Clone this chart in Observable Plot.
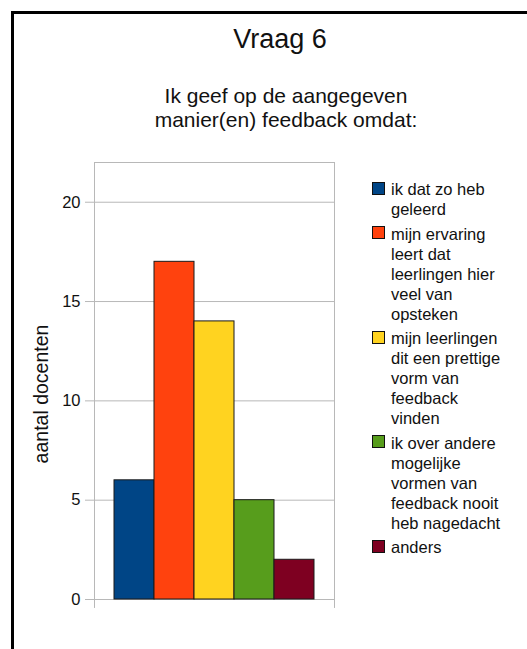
<!DOCTYPE html>
<html>
<head>
<meta charset="utf-8">
<script src="https://cdn.jsdelivr.net/npm/d3@7"></script>
<script src="https://cdn.jsdelivr.net/npm/@observablehq/plot@0.6"></script>
<style>
  body { margin: 0; background: #fff; font-family: "Liberation Sans", Arial, Helvetica, sans-serif; color: #111; }
  #page { position: relative; width: 527px; height: 649px; overflow: hidden; background: #fff; }
  #border { position: absolute; left: 11px; top: 11px; width: 700px; height: 800px; border-left: 3px solid #000; border-top: 3px solid #000; }
  #title { position: absolute; left: 0; width: 560px; top: 25.6px; text-align: center; font-size: 27px; line-height: 27px; white-space: nowrap; }
  #subtitle { position: absolute; left: 0; width: 572px; top: 84px; text-align: center; font-size: 21px; line-height: 24px; white-space: pre-line; }
  #chart { position: absolute; left: 0; top: 140px; }
  #ylabel { position: absolute; left: -59px; width: 200px; top: 382px; height: 24px; line-height: 24px; text-align: center; font-size: 19.5px; white-space: nowrap; transform: rotate(-90deg); }
  #legend { position: absolute; left: 372px; top: 179.4px; }
  .item { position: relative; padding-left: 19px; margin-bottom: 4.5px; font-size: 16.5px; line-height: 20px; white-space: pre-line; }
  .sw { position: absolute; left: 0; top: 2.3px; width: 13px; height: 13px; box-sizing: border-box; border: 1px solid #111; }
</style>
</head>
<body>
<div id="page">
  <div id="border"></div>
  <div id="title"></div>
  <div id="subtitle"></div>
  <div id="chart"></div>
  <div id="ylabel"></div>
  <div id="legend"></div>
</div>
<script>
const title = "Vraag 6";
const subtitle = "Ik geef op de aangegeven\nmanier(en) feedback omdat:";
const yLabel = "aantal docenten";
const categories = [
  "ik dat zo heb\ngeleerd",
  "mijn ervaring\nleert dat\nleerlingen hier\nveel van\nopsteken",
  "mijn leerlingen\ndit een prettige\nvorm van\nfeedback\nvinden",
  "ik over andere\nmogelijke\nvormen van\nfeedback nooit\nheb nagedacht",
  "anders"
];
const counts = [6, 17, 14, 5, 2];
const colors = ["#004586", "#ff420e", "#ffd320", "#579d1c", "#7e0021"];
const yTicks = [0, 5, 10, 15, 20];
const yMax = 22;

const data = categories.map((c, i) => ({cat: c, count: counts[i]}));

document.getElementById("title").textContent = title;
document.getElementById("subtitle").textContent = subtitle;
document.getElementById("ylabel").textContent = yLabel;

const gridColor = "#b8b8b8";

function frameSides(index, {y}, values, {width, marginLeft, marginRight}) {
  const g = d3.create("svg:g").attr("stroke", gridColor).attr("stroke-width", 1);
  for (const x of [marginLeft + 0.5, width - marginRight + 0.5]) {
    g.append("line").attr("x1", x).attr("x2", x).attr("y1", y(yMax)).attr("y2", y(-0.45));
  }
  return g.node();
}

const chart = Plot.plot({
  width: 350,
  height: 480,
  marginLeft: 94,
  marginRight: 16,
  marginTop: 22,
  marginBottom: 21,
  style: {fontFamily: "Liberation Sans, Arial, sans-serif", fontSize: "16.5px", color: "#111", background: "transparent", overflow: "visible"},
  x: {domain: categories, paddingInner: 0, paddingOuter: 0.48, axis: null},
  y: {domain: [0, yMax]},
  color: {domain: categories, range: colors},
  marks: [
    Plot.ruleY(yTicks, {stroke: gridColor}),
    Plot.ruleY([yMax], {stroke: gridColor}),
    frameSides,
    Plot.axisY(yTicks, {tickSize: 9, tickPadding: 5, stroke: gridColor, fill: "#111", label: null}),
    Plot.barY(data, {x: "cat", y: "count", fill: "cat", stroke: "#1a1a1a", strokeWidth: 1})
  ]
});
document.getElementById("chart").appendChild(chart);

const legend = document.getElementById("legend");
categories.forEach((c, i) => {
  const item = document.createElement("div");
  item.className = "item";
  const sw = document.createElement("span");
  sw.className = "sw";
  sw.style.background = colors[i];
  item.appendChild(sw);
  item.appendChild(document.createTextNode(c));
  legend.appendChild(item);
});
</script>
</body>
</html>
